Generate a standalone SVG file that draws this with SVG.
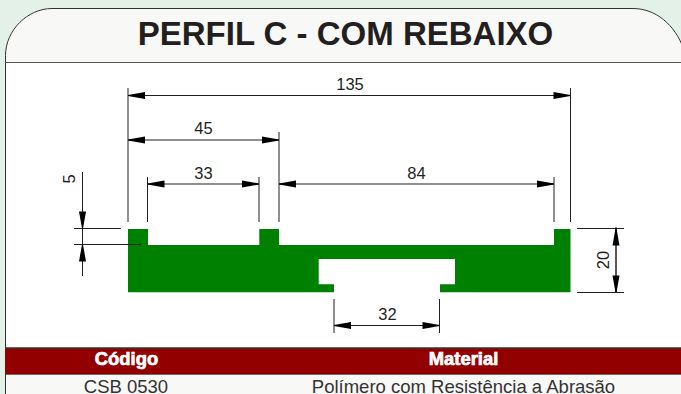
<svg xmlns="http://www.w3.org/2000/svg" width="681" height="394" viewBox="0 0 681 394">
<style>
text{font-family:"Liberation Sans",Arial,sans-serif}
.dim{font-size:16.500px;fill:#231f20;text-anchor:middle}
.h{font-size:18.400px;font-weight:bold;fill:#fff;stroke:#fff;stroke-width:.7px;text-anchor:middle}
.r{font-size:18.500px;fill:#333;text-anchor:middle}
.l{stroke:#231f20;stroke-width:1;fill:none}
.a{fill:#000}
</style>
<defs>
<marker id="ae" markerUnits="userSpaceOnUse" markerWidth="17" markerHeight="8" refX="17" refY="3.5" orient="auto-start-reverse" overflow="visible"><path class="a" d="M0 0L17 3 17 4 0 7Z"/></marker>
</defs>
<rect width="681" height="394" fill="#e4f1e9"/>
<g id="panel">
<path d="M5.500 394V55.500C5.500 30 28 8.500 52 8.500H633C655 8.500 675 24 684 50V394Z" fill="#fff"/>
<path d="M5.500 62.500V55.500C5.500 30 28 8.500 52 8.500H633C655 8.500 675 24 684 50V62.500Z" fill="#f8f8f6"/>
<path d="M5.500 394V55.500C5.500 30 28 8.500 52 8.500H633C655 8.500 675 24 684 50" fill="none" stroke="#333" stroke-width="1"/>
<path d="M5 62.500H681" stroke="#555" stroke-width="1.200"/>
<text id="title" x="345.500" y="45" font-size="33" font-weight="bold" fill="#231f20" text-anchor="middle">PERFIL C - COM REBAIXO</text>
</g>
<g id="profile">
<path d="M128 229H148V245H259.300V229H279V245H554V229H570.500V292.300H440V284.300H455V259H318.700V284.300H334V292.300H128Z" fill="#008000"/>
</g>
<g id="connectors">
<path class="l" d="M128 88V222M570.500 88V222M279 132V222M147.500 177V222M259 177V222M554 177V222M74 228.500H121M74 244.500H141M82.500 172V276M577 228.500H624M577 292.500H624M616 227V293M334 299V333M439.500 299V333"/>
<path class="l" marker-start="url(#ae)" marker-end="url(#ae)" d="M128 95.500H570.500"/>
<path class="l" marker-start="url(#ae)" marker-end="url(#ae)" d="M128 140H279"/>
<path class="l" marker-start="url(#ae)" marker-end="url(#ae)" d="M147.500 184H259"/>
<path class="l" marker-start="url(#ae)" marker-end="url(#ae)" d="M279 184H554"/>
<path class="l" marker-start="url(#ae)" marker-end="url(#ae)" d="M616 228.500V292.500"/>
<path class="l" marker-start="url(#ae)" marker-end="url(#ae)" d="M334 325.500H439.500"/>
<path class="l" marker-end="url(#ae)" d="M82.500 200V228.500"/>
<path class="l" marker-end="url(#ae)" d="M82.500 272V244.500"/>
</g>
<g id="labels">
<text class="dim" x="350" y="89.500">135</text>
<text class="dim" x="203.500" y="134">45</text>
<text class="dim" x="203.500" y="178.500">33</text>
<text class="dim" x="416.500" y="178.500">84</text>
<text class="dim" x="387.500" y="319.500">32</text>
<text class="dim" transform="translate(75 179) rotate(-90)">5</text>
<text class="dim" transform="translate(609 260) rotate(-90)">20</text>
</g>
<g id="table">
<rect x="5" y="348" width="676" height="26" fill="#920000"/>
<path d="M5 348H681" stroke="#333" stroke-width="1.500"/>
<path d="M5 374.500H681" stroke="#444" stroke-width=".8"/>
<rect x="5.500" y="375" width="675.500" height="19" fill="#f8f8f6"/>
<path d="M5.500 374V394" stroke="#333"/>
<text class="h" x="126.500" y="364.500">Código</text>
<text class="h" x="463.500" y="364.500">Material</text>
<text class="r" x="126" y="392.500">CSB 0530</text>
<text class="r" x="463.500" y="392.500">Polímero com Resistência a Abrasão</text>
</g>
</svg>
